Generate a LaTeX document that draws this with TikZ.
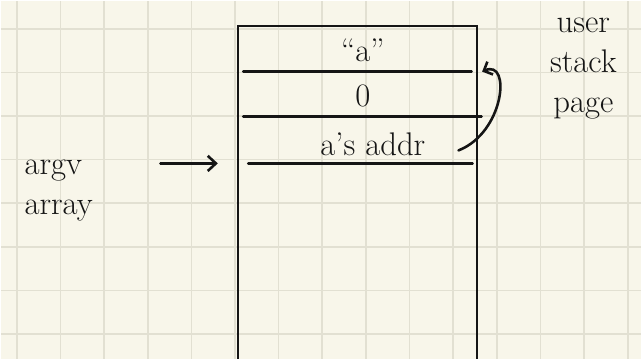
\documentclass[tikz,border=0pt]{standalone}
\usepackage{tikz}
\usetikzlibrary{arrows.meta,calc}
\usepackage{xcolor}
\definecolor{paper}{HTML}{F8F6EA}
\definecolor{gridline}{HTML}{E2E0D2}
\definecolor{ink}{HTML}{151515}

\begin{document}
\begin{tikzpicture}[x=0.03cm,y=-0.03cm,
    pen/.style={ink, line width=2.2pt, line cap=round},
    hand/.style={ink, font=\fontsize{28}{34}\selectfont, inner sep=0pt}]
  % paper with its grid
  \fill[paper] (0,0) rectangle (642,359);
  \foreach \k in {0,...,14}
    \draw[gridline, line width=1.4pt] ({16+43.75*\k},0) -- ({16+43.75*\k},359);
  \foreach \k in {0,...,7}
    \draw[gridline, line width=1.4pt] (0,{28+43.75*\k}) -- (642,{28+43.75*\k});
  % the stack page
  \draw[ink, line width=1.7pt] (238,359) -- (238,25) -- (477,25) -- (477,359);
  \draw[pen] (243,71) -- (472,71) coordinate (top);
  \draw[pen] (243,116) -- (482,116);
  \draw[pen] (248,163) coordinate (row) -- (473,163);
  \node[hand] (str)  at (363,50)  {``a''};
  \node[hand] (zero) at (363,95)  {0};
  \node[hand] (addr) at (373,144) {a's addr};
  % labels
  \node[hand, align=left] (argv) at (58,190) {argv\\array};
  \node[hand, align=center] (page) at (584,68) {user\\stack\\page};
  \coordinate (tail) at (160,163);
  \draw[pen, -{Straight Barb[length=7pt,width=13pt]}] (tail) -- ([xshift=-26pt]row);
  \draw[pen, -{Straight Barb[length=6pt,width=12pt]}]
    ($(addr.east)+(33,6)$) .. controls (505,132) and (512,58) .. ([xshift=9pt]top);
\end{tikzpicture}
\end{document}
